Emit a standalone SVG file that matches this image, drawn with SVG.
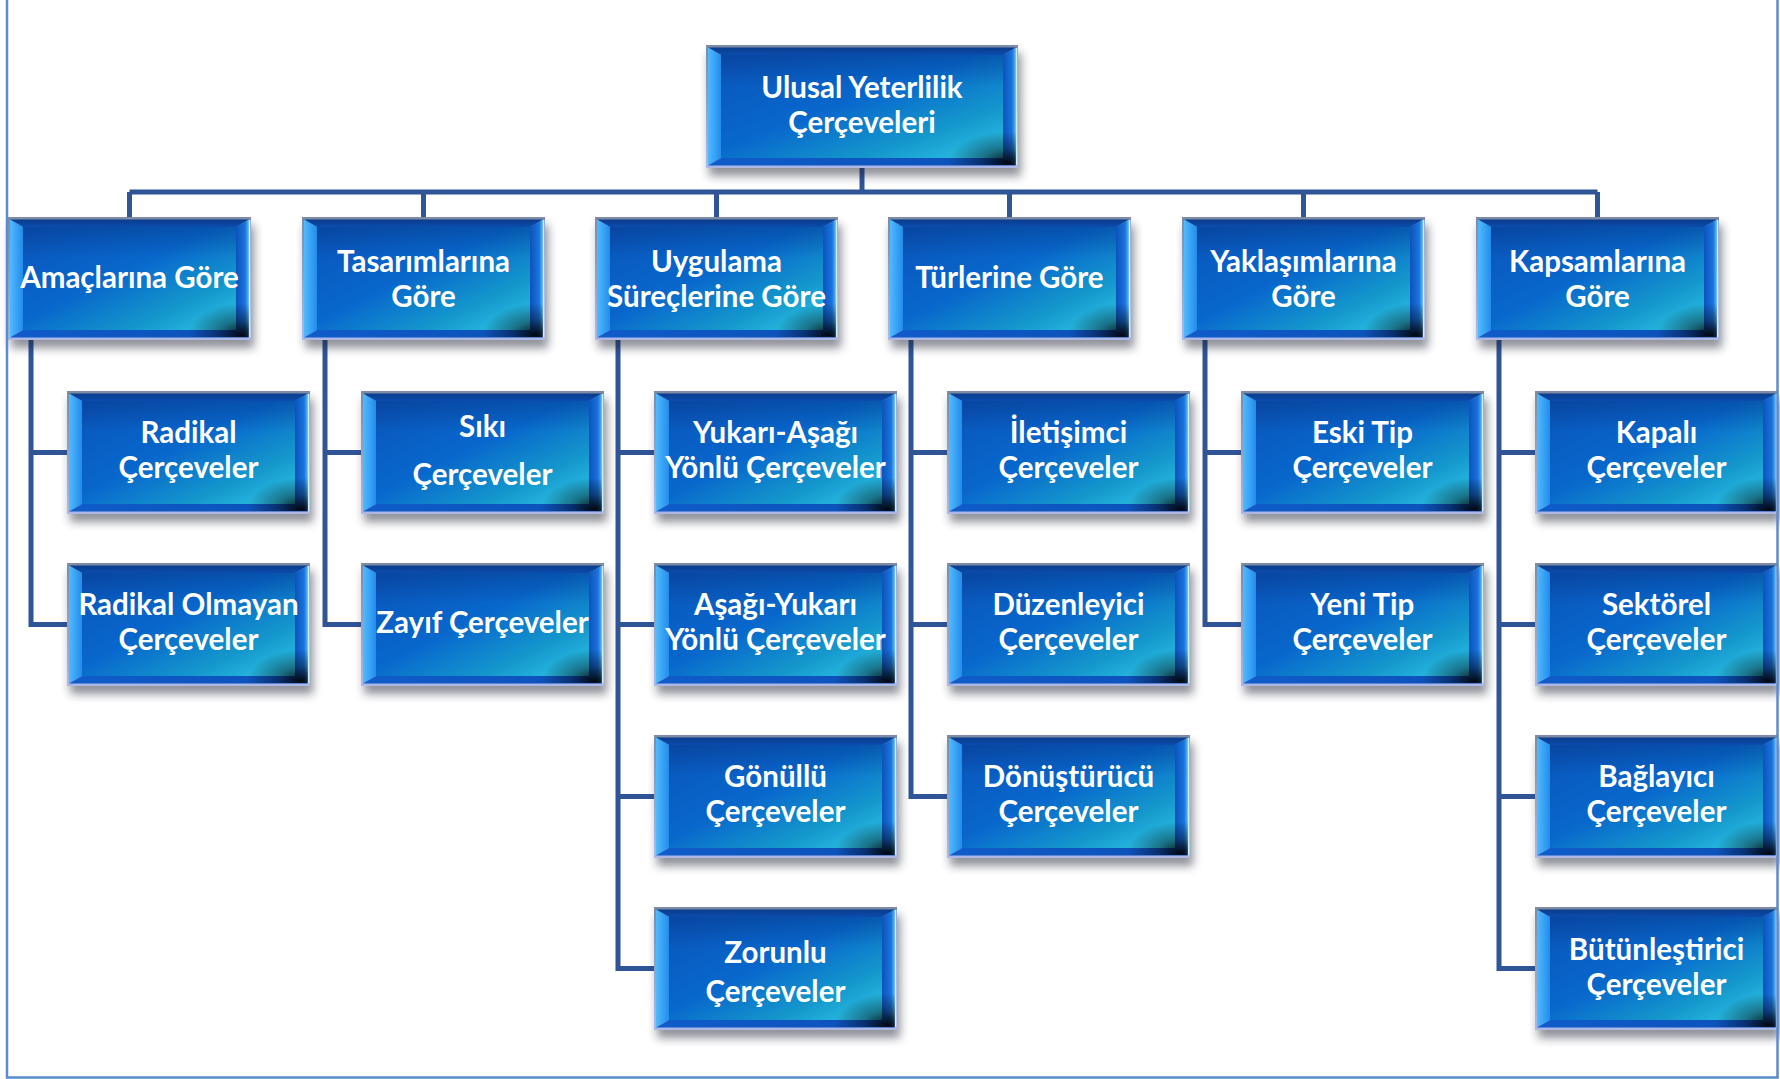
<svg xmlns="http://www.w3.org/2000/svg" xmlns:xlink="http://www.w3.org/1999/xlink" width="1780" height="1079" viewBox="0 0 1780 1079">
  <style>
    .t { font-family: Lato, "Open Sans", "Liberation Sans", sans-serif; font-weight: 700; font-size: 29.5px; fill: #ffffff; text-anchor: middle; }
    .wire { fill: none; stroke: #2F5597; stroke-width: 5; stroke-linejoin: miter; stroke-linecap: butt; }
    .frame { fill: none; stroke: #5B8BD0; stroke-width: 2.5; }
  </style>
  <defs>
    <filter id="sh" x="-20%" y="-30%" width="140%" height="170%">
      <feGaussianBlur stdDeviation="5"/>
    </filter>
    <linearGradient id="rim" x1="0" y1="0" x2="0" y2="1">
      <stop offset="0" stop-color="#7D8CA2"/>
      <stop offset="1" stop-color="#AEB8E6"/>
    </linearGradient>
    <linearGradient id="topB" x1="0" y1="0" x2="0" y2="1">
      <stop offset="0" stop-color="#0A3C8C"/>
      <stop offset="1" stop-color="#0C4CAE"/>
    </linearGradient>
    <linearGradient id="leftB" x1="0" y1="0" x2="1" y2="0">
      <stop offset="0" stop-color="#50BAFF"/>
      <stop offset="1" stop-color="#238CEC"/>
    </linearGradient>
    <linearGradient id="rightB" x1="0" y1="0" x2="1" y2="0">
      <stop offset="0" stop-color="#0C52BC"/>
      <stop offset="0.7" stop-color="#1A74DC"/>
      <stop offset="1" stop-color="#62BCF4"/>
    </linearGradient>
    <linearGradient id="botB" x1="0" y1="0" x2="1" y2="0">
      <stop offset="0" stop-color="#0F5CCA"/>
      <stop offset="1" stop-color="#0C50B8"/>
    </linearGradient>
    <linearGradient id="face" x1="0" y1="0" x2="1" y2="1">
      <stop offset="0" stop-color="#0A54BA"/>
      <stop offset="0.45" stop-color="#0867CC"/>
      <stop offset="0.75" stop-color="#1497CC"/>
      <stop offset="1" stop-color="#30C8E8"/>
    </linearGradient>
    <linearGradient id="faceTop" x1="0" y1="0" x2="0" y2="1">
      <stop offset="0" stop-color="#001a55" stop-opacity="0.25"/>
      <stop offset="0.3" stop-color="#001a55" stop-opacity="0"/>
    </linearGradient>
    <radialGradient id="corner" cx="0.9" cy="0.95" r="0.75">
      <stop offset="0" stop-color="#000000" stop-opacity="0.9"/>
      <stop offset="0.45" stop-color="#000000" stop-opacity="0.4"/>
      <stop offset="1" stop-color="#000000" stop-opacity="0"/>
    </radialGradient>

    <!-- standard tile 243 x 123 -->
    <g id="tile">
      <rect x="3" y="8" width="243" height="123" fill="#1c2233" opacity="0.5" filter="url(#sh)"/>
      <rect x="0" y="0" width="243" height="123" fill="url(#rim)"/>
      <polygon points="2,2.5 241,2.5 228,10 15,10" fill="url(#topB)"/>
      <polygon points="2,2.5 15,10 15,113 2,120.5" fill="url(#leftB)"/>
      <polygon points="241,2.5 241,120.5 228,113 228,10" fill="url(#rightB)"/>
      <polygon points="2,120.5 15,113 228,113 241,120.5" fill="url(#botB)"/>
      <rect x="15" y="10" width="213" height="103" fill="url(#face)"/>
      <rect x="15" y="10" width="213" height="103" fill="url(#faceTop)"/>
      <rect x="170" y="78" width="71" height="42" fill="url(#corner)"/>
      <line x1="241.6" y1="3" x2="241.6" y2="120" stroke="#C6F0FF" stroke-width="1.5"/>
    </g>

    <!-- wide tile 312 x 123 -->
    <g id="tileW">
      <rect x="3" y="8" width="312" height="123" fill="#1c2233" opacity="0.5" filter="url(#sh)"/>
      <rect x="0" y="0" width="312" height="123" fill="url(#rim)"/>
      <polygon points="2,2.5 310,2.5 297,10 15,10" fill="url(#topB)"/>
      <polygon points="2,2.5 15,10 15,113 2,120.5" fill="url(#leftB)"/>
      <polygon points="310,2.5 310,120.5 297,113 297,10" fill="url(#rightB)"/>
      <polygon points="2,120.5 15,113 297,113 310,120.5" fill="url(#botB)"/>
      <rect x="15" y="10" width="282" height="103" fill="url(#face)"/>
      <rect x="15" y="10" width="282" height="103" fill="url(#faceTop)"/>
      <rect x="230" y="78" width="80" height="42" fill="url(#corner)"/>
      <line x1="310.6" y1="3" x2="310.6" y2="120" stroke="#C6F0FF" stroke-width="1.5"/>
    </g>
  </defs>

  <rect x="0" y="0" width="1780" height="1079" fill="#ffffff"/>

  <!-- connectors -->
  <g id="connectors" class="wire">
    <path d="M862,168 V192"/>
    <path d="M129.5,192 H1597.5"/>
    <path d="M129.5,192 V217 M423.5,192 V217 M716.5,192 V217 M1009.5,192 V217 M1303.5,192 V217 M1597.5,192 V217"/>
    <path d="M31,340 V624.5 H67 M31,452.5 H67"/>
    <path d="M325,340 V624.5 H361 M325,452.5 H361"/>
    <path d="M618,340 V968.5 H654 M618,452.5 H654 M618,624.5 H654 M618,796.5 H654"/>
    <path d="M911,340 V796.5 H947 M911,452.5 H947 M911,624.5 H947"/>
    <path d="M1205,340 V624.5 H1241 M1205,452.5 H1241"/>
    <path d="M1499,340 V968.5 H1535 M1499,452.5 H1535 M1499,624.5 H1535 M1499,796.5 H1535"/>
  </g>

  <!-- root -->
  <g id="n-root">
    <use href="#tileW" x="706" y="45"/>
    <text class="t" x="862" y="98">Ulusal Yeterlilik</text>
    <text class="t" x="862" y="133">Çerçeveleri</text>
  </g>

  <!-- categories -->
  <g id="n-amac">
    <use href="#tile" x="8" y="217"/>
    <text class="t" x="129.5" y="288">Amaçlarına Göre</text>
  </g>
  <g id="n-tasarim">
    <use href="#tile" x="302" y="217"/>
    <text class="t" x="423.5" y="272">Tasarımlarına</text>
    <text class="t" x="423.5" y="307">Göre</text>
  </g>
  <g id="n-uygulama">
    <use href="#tile" x="595" y="217"/>
    <text class="t" x="716.5" y="272">Uygulama</text>
    <text class="t" x="716.5" y="307">Süreçlerine Göre</text>
  </g>
  <g id="n-tur">
    <use href="#tile" x="888" y="217"/>
    <text class="t" x="1009.5" y="288">Türlerine Göre</text>
  </g>
  <g id="n-yaklasim">
    <use href="#tile" x="1182" y="217"/>
    <text class="t" x="1303.5" y="272">Yaklaşımlarına</text>
    <text class="t" x="1303.5" y="307">Göre</text>
  </g>
  <g id="n-kapsam">
    <use href="#tile" x="1476" y="217"/>
    <text class="t" x="1597.5" y="272">Kapsamlarına</text>
    <text class="t" x="1597.5" y="307">Göre</text>
  </g>

  <!-- Amaçlarına Göre -->
  <g id="n-radikal">
    <use href="#tile" x="67" y="391"/>
    <text class="t" x="188.5" y="443">Radikal</text>
    <text class="t" x="188.5" y="478">Çerçeveler</text>
  </g>
  <g id="n-radikal-olmayan">
    <use href="#tile" x="67" y="563"/>
    <text class="t" x="188.5" y="615">Radikal Olmayan</text>
    <text class="t" x="188.5" y="650">Çerçeveler</text>
  </g>

  <!-- Tasarımlarına Göre -->
  <g id="n-siki">
    <use href="#tile" x="361" y="391"/>
    <text class="t" x="482.5" y="437">Sıkı</text>
    <text class="t" x="482.5" y="485">Çerçeveler</text>
  </g>
  <g id="n-zayif">
    <use href="#tile" x="361" y="563"/>
    <text class="t" x="482.5" y="633">Zayıf Çerçeveler</text>
  </g>

  <!-- Uygulama Süreçlerine Göre -->
  <g id="n-yukari-asagi">
    <use href="#tile" x="654" y="391"/>
    <text class="t" x="775.5" y="443">Yukarı-Aşağı</text>
    <text class="t" x="775.5" y="478">Yönlü Çerçeveler</text>
  </g>
  <g id="n-asagi-yukari">
    <use href="#tile" x="654" y="563"/>
    <text class="t" x="775.5" y="615">Aşağı-Yukarı</text>
    <text class="t" x="775.5" y="650">Yönlü Çerçeveler</text>
  </g>
  <g id="n-gonullu">
    <use href="#tile" x="654" y="735"/>
    <text class="t" x="775.5" y="787">Gönüllü</text>
    <text class="t" x="775.5" y="822">Çerçeveler</text>
  </g>
  <g id="n-zorunlu">
    <use href="#tile" x="654" y="907"/>
    <text class="t" x="775.5" y="963">Zorunlu</text>
    <text class="t" x="775.5" y="1002">Çerçeveler</text>
  </g>

  <!-- Türlerine Göre -->
  <g id="n-iletisimci">
    <use href="#tile" x="947" y="391"/>
    <text class="t" x="1068.5" y="443">İletişimci</text>
    <text class="t" x="1068.5" y="478">Çerçeveler</text>
  </g>
  <g id="n-duzenleyici">
    <use href="#tile" x="947" y="563"/>
    <text class="t" x="1068.5" y="615">Düzenleyici</text>
    <text class="t" x="1068.5" y="650">Çerçeveler</text>
  </g>
  <g id="n-donusturucu">
    <use href="#tile" x="947" y="735"/>
    <text class="t" x="1068.5" y="787">Dönüştürücü</text>
    <text class="t" x="1068.5" y="822">Çerçeveler</text>
  </g>

  <!-- Yaklaşımlarına Göre -->
  <g id="n-eski-tip">
    <use href="#tile" x="1241" y="391"/>
    <text class="t" x="1362.5" y="443">Eski Tip</text>
    <text class="t" x="1362.5" y="478">Çerçeveler</text>
  </g>
  <g id="n-yeni-tip">
    <use href="#tile" x="1241" y="563"/>
    <text class="t" x="1362.5" y="615">Yeni Tip</text>
    <text class="t" x="1362.5" y="650">Çerçeveler</text>
  </g>

  <!-- Kapsamlarına Göre -->
  <g id="n-kapali">
    <use href="#tile" x="1535" y="391"/>
    <text class="t" x="1656.5" y="443">Kapalı</text>
    <text class="t" x="1656.5" y="478">Çerçeveler</text>
  </g>
  <g id="n-sektorel">
    <use href="#tile" x="1535" y="563"/>
    <text class="t" x="1656.5" y="615">Sektörel</text>
    <text class="t" x="1656.5" y="650">Çerçeveler</text>
  </g>
  <g id="n-baglayici">
    <use href="#tile" x="1535" y="735"/>
    <text class="t" x="1656.5" y="787">Bağlayıcı</text>
    <text class="t" x="1656.5" y="822">Çerçeveler</text>
  </g>
  <g id="n-butunlestirici">
    <use href="#tile" x="1535" y="907"/>
    <text class="t" x="1656.5" y="960">Bütünleştirici</text>
    <text class="t" x="1656.5" y="995">Çerçeveler</text>
  </g>

  <!-- page frame -->
  <rect class="frame" x="7" y="-5" width="1770.5" height="1082.5"/>
</svg>
